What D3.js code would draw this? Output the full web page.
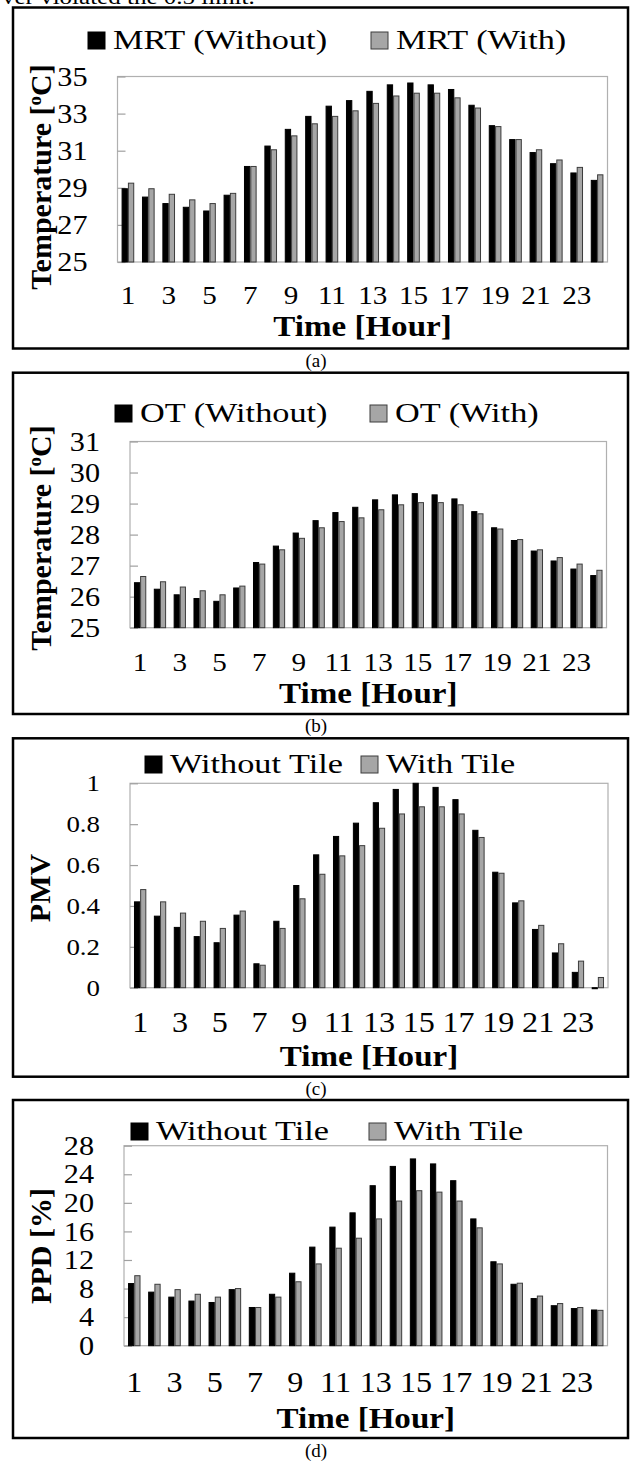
<!DOCTYPE html>
<meta charset="utf-8">
<head>
<script src="https://d3js.org/d3.v7.min.js"></script>
<style>
  body { margin: 0; background: #fff; }
  text { font-family: "Liberation Serif", "Times New Roman", serif; fill: #000; }
</style>
</head>
<body>
<div id="chart"></div>
<script>
// hours on the x axis
var hours = d3.range(1, 25);
var hourTicks = [1, 3, 5, 7, 9, 11, 13, 15, 17, 19, 21, 23];

// (a) mean radiant temperature [C]
var mrtWithout = [28.95, 28.5, 28.15, 27.95, 27.75, 28.6, 30.15, 31.25, 32.15, 32.85, 33.4, 33.7,
                  34.2, 34.55, 34.65, 34.55, 34.3, 33.45, 32.35, 31.6, 30.9, 30.3, 29.8, 29.4];
var mrtWith    = [29.25, 28.95, 28.65, 28.35, 28.15, 28.7, 30.15, 31.05, 31.8, 32.45, 32.85, 33.15,
                  33.55, 33.95, 34.1, 34.1, 33.85, 33.3, 32.3, 31.6, 31.05, 30.5, 30.1, 29.7];
var mrtTicks = [25, 27, 29, 31, 33, 35];

// (b) operative temperature [C]
var otWithout = [26.45, 26.24, 26.06, 25.94, 25.85, 26.28, 27.1, 27.63, 28.05, 28.45, 28.71, 28.88,
                 29.12, 29.28, 29.32, 29.28, 29.15, 28.74, 28.22, 27.81, 27.47, 27.15, 26.89, 26.68];
var otWith    = [26.65, 26.48, 26.31, 26.19, 26.06, 26.34, 27.05, 27.51, 27.88, 28.22, 28.42, 28.54,
                 28.8, 28.96, 29.03, 29.03, 28.96, 28.67, 28.18, 27.84, 27.51, 27.26, 27.05, 26.85];
var otTicks = [25, 26, 27, 28, 29, 30, 31];

// (c) PMV
var pmvWithout = [0.42, 0.35, 0.295, 0.25, 0.22, 0.355, 0.117, 0.325, 0.5, 0.65, 0.74, 0.805,
                  0.905, 0.97, 1.0, 0.98, 0.92, 0.77, 0.565, 0.415, 0.285, 0.17, 0.075, -0.005];
var pmvWith    = [0.48, 0.42, 0.365, 0.325, 0.29, 0.375, 0.11, 0.29, 0.435, 0.555, 0.645, 0.695,
                  0.78, 0.85, 0.885, 0.885, 0.85, 0.735, 0.56, 0.425, 0.305, 0.215, 0.13, 0.05];
var pmvTicks = [0, 0.2, 0.4, 0.6, 0.8, 1];

// (d) PPD [%]
var ppdWithout = [8.7, 7.5, 6.8, 6.25, 6.05, 7.85, 5.35, 7.2, 10.15, 13.8, 16.6, 18.6,
                  22.4, 25.1, 26.15, 25.45, 23.1, 17.75, 11.75, 8.6, 6.6, 5.6, 5.2, 5.0];
var ppdWith    = [9.8, 8.6, 7.85, 7.2, 6.8, 8.0, 5.35, 6.8, 8.95, 11.45, 13.65, 15.05,
                  17.75, 20.25, 21.7, 21.5, 20.25, 16.5, 11.45, 8.75, 6.95, 5.9, 5.35, 4.95];
var ppdTicks = [0, 4, 8, 12, 16, 20, 24, 28];

var W = 633, H = 1461;
var svg = d3.select("#chart").append("svg")
    .attr("width", W)
    .attr("height", H);

// widen text horizontally, the source picture is a little stretched
function stretch(sel, k) {
  sel.each(function() {
    var len = this.getComputedTextLength();
    d3.select(this).attr("textLength", len * k).attr("lengthAdjust", "spacingAndGlyphs");
  });
}

// cut off line of the paper text above the figure
svg.append("text")
    .attr("x", 2).attr("y", 4)
    .attr("font-size", 20)
    .text("ver violated the 0.5 limit.")
    .call(stretch, 1.25);

function drawPanel(p) {
  var g = svg.append("g");

  // outer frame
  g.append("rect")
      .attr("x", p.box[0]).attr("y", p.box[1])
      .attr("width", p.box[2] - p.box[0]).attr("height", p.box[3] - p.box[1])
      .attr("fill", "none").attr("stroke", "#000").attr("stroke-width", 2.5);

  var x = d3.scaleBand()
      .domain(hours)
      .range([p.l, p.r])
      .paddingInner(0.38)
      .paddingOuter(0.2);
  var xs = d3.scaleBand()
      .domain([0, 1])
      .range([0, x.bandwidth()]);
  var y = d3.scaleLinear()
      .domain(p.domain)
      .range([p.b, p.t]);
  var base = Math.max(0, p.domain[0]);

  // plot area border
  g.append("rect")
      .attr("x", p.l).attr("y", p.t)
      .attr("width", p.r - p.l).attr("height", p.b - p.t)
      .attr("fill", "none").attr("stroke", "#b0b0b0").attr("stroke-width", 1.2);

  // y axis, ticks point into the plot
  var ya = g.append("g")
      .attr("transform", "translate(" + p.l + ",0)")
      .call(d3.axisLeft(y).tickValues(p.ticks).tickSize(-8).tickPadding(30).tickFormat(d3.format("")));
  ya.select(".domain").remove();
  ya.selectAll("line").attr("stroke", "#a0a0a0").attr("stroke-width", 1.2);
  ya.selectAll("text")
      .attr("font-size", p.yTickSize)
      .attr("font-family", "Liberation Serif")
      .call(stretch, 1.12);

  // bars
  var series = [
    {vals: p.without, fill: "#000", stroke: "#000"},
    {vals: p.with, fill: "#a6a6a6", stroke: "#3c3c3c"}
  ];
  series.forEach(function(s, si) {
    g.selectAll(null)
        .data(hours)
        .enter()
        .append("rect")
          .attr("x", function(d) { return x(d) + xs(si) + 0.5; })
          .attr("y", function(d, i) { return Math.min(y(s.vals[i]), y(base)); })
          .attr("width", xs.bandwidth() - 1)
          .attr("height", function(d, i) { return Math.abs(y(s.vals[i]) - y(base)); })
          .attr("fill", s.fill)
          .attr("stroke", s.stroke)
          .attr("stroke-width", 1);
  });

  // x labels (odd hours)
  var xa = g.append("g")
      .attr("transform", "translate(0," + p.xLabelBase + ")")
      .call(d3.axisBottom(x).tickValues(hourTicks).tickSize(0).tickPadding(0));
  xa.select(".domain").remove();
  xa.selectAll("text")
      .attr("dy", 0)
      .attr("y", 0)
      .attr("font-size", p.xTickSize)
      .attr("font-family", "Liberation Serif")
      .call(stretch, p.xStretch);

  // axis titles
  g.append("text")
      .attr("x", (p.l + p.r) / 2).attr("y", p.xTitleBase)
      .attr("text-anchor", "middle")
      .attr("font-size", 29).attr("font-weight", "bold")
      .text("Time [Hour]")
      .call(stretch, 1.14);

  var yt = g.append("text")
      .attr("transform", "translate(" + p.yTitleX + "," + p.yTitleY + ") rotate(-90)")
      .attr("text-anchor", "middle")
      .attr("font-size", 30).attr("font-weight", "bold");
  p.yTitle.forEach(function(part) {
    var ts = yt.append("tspan").text(part.t);
    if (part.sup) ts.attr("font-size", 19).attr("dy", -10);
    if (part.after) ts.attr("dy", 10);
  });

  // legend
  p.legend.forEach(function(item, i) {
    g.append("rect")
        .attr("x", item.x).attr("y", p.legendBase - 17)
        .attr("width", 17).attr("height", 17)
        .attr("fill", series[i].fill)
        .attr("stroke", series[i].stroke).attr("stroke-width", 1);
    g.append("text")
        .attr("x", item.x + 25).attr("y", p.legendBase)
        .attr("font-size", 27)
        .text(item.label)
        .call(stretch, 1.27);
  });

  // caption under the frame
  svg.append("text")
      .attr("x", 316).attr("y", p.captionBase)
      .attr("text-anchor", "middle")
      .attr("font-size", 19)
      .text(p.caption);
}

var tempTitle = [{t: "Temperature ["}, {t: "o", sup: true}, {t: "C]", after: true}];

drawPanel({
  box: [13, 7.5, 628, 348.5], l: 117.5, r: 607.5, t: 76.5, b: 262,
  domain: [25, 35], ticks: mrtTicks, without: mrtWithout, with: mrtWith,
  yTickSize: 27, xTickSize: 26, xStretch: 1.12,
  xLabelBase: 304, xTitleBase: 336, yTitleX: 51, yTitleY: 177, yTitle: tempTitle,
  legendBase: 49, legend: [{x: 88, label: "MRT (Without)"}, {x: 371, label: "MRT (With)"}],
  caption: "(a)", captionBase: 367
});

drawPanel({
  box: [13, 372.7, 628, 714], l: 130, r: 606.5, t: 441.5, b: 627.7,
  domain: [25, 31], ticks: otTicks, without: otWithout, with: otWith,
  yTickSize: 27, xTickSize: 26, xStretch: 1.12,
  xLabelBase: 670.7, xTitleBase: 702.7, yTitleX: 51, yTitleY: 538, yTitle: tempTitle,
  legendBase: 422, legend: [{x: 115, label: "OT (Without)"}, {x: 370, label: "OT (With)"}],
  caption: "(b)", captionBase: 732
});

drawPanel({
  box: [13, 738.3, 628, 1076.7], l: 130, r: 608, t: 783.3, b: 987.7,
  domain: [0, 1], ticks: pmvTicks, without: pmvWithout, with: pmvWith,
  yTickSize: 24, xTickSize: 30, xStretch: 1.07,
  xLabelBase: 1032, xTitleBase: 1066, yTitleX: 50, yTitleY: 888, yTitle: [{t: "PMV"}],
  legendBase: 773, legend: [{x: 145, label: "Without Tile"}, {x: 361, label: "With Tile"}],
  caption: "(c)", captionBase: 1095
});

drawPanel({
  box: [13, 1100, 628, 1438], l: 124, r: 607.5, t: 1145.7, b: 1345.7,
  domain: [0, 28], ticks: ppdTicks, without: ppdWithout, with: ppdWith,
  yTickSize: 27, xTickSize: 30, xStretch: 1.07,
  xLabelBase: 1392, xTitleBase: 1428, yTitleX: 51, yTitleY: 1246, yTitle: [{t: "PPD [%]"}],
  legendBase: 1140, legend: [{x: 131, label: "Without Tile"}, {x: 369, label: "With Tile"}],
  caption: "(d)", captionBase: 1457
});
</script>
</body>
